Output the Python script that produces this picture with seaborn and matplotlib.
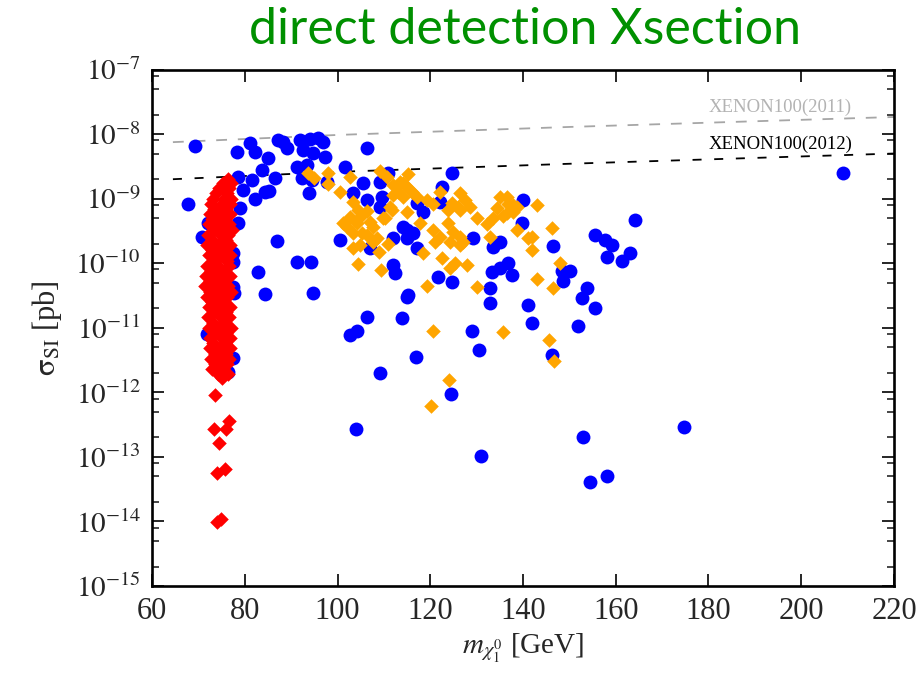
import numpy as np
import pandas as pd
import matplotlib
matplotlib.use("Agg")
import matplotlib.pyplot as plt
import seaborn as sns
from matplotlib.ticker import LogLocator, FixedLocator, NullFormatter, FuncFormatter

# ---- data (mass in GeV, log10 of sigma_SI in pb) ----
blue_mass = [69.3, 67.8, 78.3, 81.1, 82.2, 85.0, 83.7, 78.5, 81.6, 86.5, 79.6, 84.4, 85.3, 82.2,
             87.2, 89.1, 88.2, 91.9, 94.1, 95.8, 96.9, 92.6, 94.7, 97.3, 91.3, 93.4, 92.3, 94.5,
             93.9, 106.4, 101.6, 97.7, 105.5, 109.2, 110.9, 124.7, 122.5, 103.3, 106.4, 109.6,
             122.1, 140.0, 117.1, 118.4, 139.8, 109.2, 70.8, 72.1, 78.5, 87.0, 100.5, 112.0,
             115.0, 115.0, 117.1, 129.2, 133.5, 135.0, 107.0, 91.3, 94.3, 82.9, 112.0, 112.4,
             121.7, 124.7, 133.3, 135.0, 136.8, 137.6, 132.9, 132.9, 141.1, 141.9, 84.4, 94.7,
             115.0, 106.4, 113.9, 129.0, 102.7, 104.2, 209.0, 164.1, 155.5, 157.7, 159.2, 158.1,
             161.3, 163.1, 146.5, 148.4, 150.1, 148.6, 153.8, 152.7, 155.5, 151.9, 146.3, 152.9,
             174.7, 154.4, 158.1, 130.5, 116.9, 109.2, 124.5, 104.0, 130.9, 71.9, 76.4, 77.5,
             77.5, 77.5, 77.7, 77.5, 79.0, 114.1, 116.3, 115.2]
blue_log_sigma = [-8.185, -9.083, -8.278, -8.138, -8.278, -8.371, -8.557, -8.665, -8.712, -8.681,
                  -8.866, -8.897, -8.880, -9.006, -8.092, -8.216, -8.123, -8.092, -8.076, -8.061,
                  -8.123, -8.247, -8.293, -8.355, -8.510, -8.479, -8.681, -8.712, -8.913, -8.216,
                  -8.510, -8.742, -8.758, -8.742, -8.603, -8.603, -8.820, -8.913, -9.021, -8.975,
                  -9.052, -9.021, -9.068, -9.207, -9.378, -9.130, -9.594, -9.378, -9.378, -9.656,
                  -9.641, -9.610, -9.486, -9.610, -9.765, -9.610, -9.749, -9.672, -9.765, -9.982,
                  -9.982, -10.137, -10.028, -10.152, -10.214, -10.291, -10.137, -10.075, -9.997,
                  -10.183, -10.384, -10.617, -10.648, -10.926, -10.477, -10.462, -10.524, -10.834,
                  -10.849, -11.050, -11.112, -11.050, -8.603, -9.331, -9.563, -9.641, -9.718,
                  -9.904, -9.966, -9.842, -9.734, -10.121, -10.121, -10.276, -10.384, -10.539,
                  -10.694, -10.973, -11.422, -12.692, -12.537, -13.389, -13.296, -11.345, -11.453,
                  -11.701, -12.026, -12.568, -12.986, -11.097, -11.685, -9.842, -9.982, -10.369,
                  -10.462, -11.469, -9.145, -9.439, -9.532, -10.493]

orange_mass = [93.6, 94.9, 98.0, 98.0, 102.7, 100.5, 109.2, 110.7, 112.0, 113.0, 112.0, 115.2,
               114.6, 116.1, 117.1, 119.3, 120.6, 122.1, 124.7, 126.4, 127.5, 128.6, 126.4, 130.1,
               132.2, 135.0, 136.5, 137.8, 134.4, 135.7, 133.5, 143.0, 103.3, 104.4, 102.7, 106.4,
               101.2, 104.2, 107.0, 103.3, 106.4, 109.8, 111.3, 115.0, 117.8, 120.6, 123.8, 124.9,
               126.4, 126.4, 124.3, 122.1, 121.0, 132.9, 138.7, 141.1, 141.9, 103.3, 104.9, 107.7,
               108.9, 110.9, 118.4, 122.5, 124.3, 125.3, 127.9, 104.4, 109.4, 119.3, 130.1, 143.0,
               120.6, 135.7, 136.8, 146.3, 148.0, 146.5, 145.6, 146.7, 124.0, 120.2, 114.1, 115.6,
               126.0, 136.5, 137.8, 138.7, 104.9, 105.3, 108.5, 113.5, 114.1, 111.8, 110.2, 102.0,
               107.7, 123.8, 127.1, 141.9]
orange_log_sigma = [-8.603, -8.681, -8.603, -8.773, -8.665, -8.897, -8.572, -8.665, -8.789, -8.897,
                    -8.944, -8.619, -8.789, -8.897, -8.975, -9.021, -9.083, -8.897, -9.068, -8.913,
                    -9.021, -9.130, -9.176, -9.300, -9.393, -8.975, -8.975, -9.099, -9.145, -9.269,
                    -9.300, -9.099, -9.052, -9.176, -9.285, -9.192, -9.378, -9.378, -9.362, -9.532,
                    -9.563, -9.300, -9.130, -9.207, -9.378, -9.486, -9.378, -9.517, -9.594, -9.718,
                    -9.672, -9.594, -9.672, -9.594, -9.486, -9.610, -9.796, -9.765, -9.718, -9.672,
                    -9.827, -9.703, -9.842, -9.920, -10.075, -9.997, -10.028, -10.013, -10.106,
                    -10.353, -10.369, -10.245, -11.050, -11.066, -9.083, -9.455, -9.997, -10.384,
                    -11.190, -11.515, -11.809, -12.212, -8.758, -8.866, -9.130, -9.223, -9.207,
                    -9.130, -9.285, -9.532, -9.610, -8.742, -8.975, -9.176, -9.300, -9.439, -9.439,
                    -9.176, -9.672, -9.594]

red_mass = [76.3, 75.2, 77.0, 74.5, 76.6, 73.8, 76.2, 73.2, 75.5, 77.1, 72.8, 75.0, 76.8,
            73.4, 76.0, 72.5, 74.6, 76.9, 73.0, 75.8, 72.3, 74.4, 76.5, 73.3, 75.6, 77.2,
            72.0, 74.8, 76.4, 73.0, 75.9, 71.8, 74.2, 76.8, 72.9, 75.4, 72.2, 74.6, 76.9,
            73.5, 76.1, 71.9, 74.3, 76.6, 72.8, 75.5, 71.6, 74.0, 76.8, 72.6, 75.3, 71.5,
            73.8, 76.4, 72.4, 75.0, 77.0, 71.8, 74.2, 76.2, 73.0, 75.6, 72.2, 74.5, 76.8,
            73.4, 75.9, 72.0, 74.8, 76.6, 73.1, 75.4, 72.3, 74.6, 77.0, 73.6, 76.0, 72.5,
            75.0, 76.9, 73.2, 75.7, 72.4, 74.6, 76.8, 73.5, 75.9, 72.8, 75.0, 76.7, 73.6,
            76.2, 73.0, 75.3, 74.2, 76.4, 75.0,
            73.6, 73.4, 76.0, 76.6, 74.4, 74.0, 75.7, 74.0, 74.9]
red_log_sigma = [-8.70, -8.76, -8.76, -8.84, -8.84, -8.92, -8.92, -9.00, -9.00, -9.00, -9.08,
                 -9.08, -9.08, -9.16, -9.16, -9.24, -9.24, -9.24, -9.32, -9.32, -9.40, -9.40,
                 -9.40, -9.48, -9.48, -9.48, -9.56, -9.56, -9.56, -9.64, -9.64, -9.72, -9.72,
                 -9.72, -9.80, -9.80, -9.88, -9.88, -9.88, -9.96, -9.96, -10.04, -10.04, -10.04,
                 -10.12, -10.12, -10.20, -10.20, -10.20, -10.28, -10.28, -10.36, -10.36, -10.36,
                 -10.44, -10.44, -10.44, -10.52, -10.52, -10.52, -10.60, -10.60, -10.68, -10.68,
                 -10.68, -10.76, -10.76, -10.84, -10.84, -10.84, -10.92, -10.92, -11.00, -11.00,
                 -11.00, -11.08, -11.08, -11.16, -11.16, -11.16, -11.24, -11.24, -11.32, -11.32,
                 -11.32, -11.40, -11.40, -11.48, -11.48, -11.48, -11.56, -11.56, -11.64, -11.64,
                 -11.72, -11.72, -11.78,
                 -12.042, -12.568, -12.568, -12.444, -12.785, -13.250, -13.188, -14.009, -13.962]

xenon2011_mass = [64.5, 100.0, 150.0, 220.0]
xenon2011_sigma = [7.5e-9, 9.7e-9, 1.29e-8, 1.84e-8]
xenon2012_mass = [64.5, 100.0, 150.0, 220.0]
xenon2012_sigma = [2.0e-9, 2.6e-9, 3.47e-9, 5.0e-9]

x_ticks = [60, 80, 100, 120, 140, 160, 180, 200, 220]
y_exponents = [-15, -14, -13, -12, -11, -10, -9, -8, -7]

# ---- style ----
sns.set_style("ticks")
plt.rcParams["font.family"] = ["Liberation Serif", "DejaVu Serif"]
plt.rcParams["mathtext.fontset"] = "stix"

fig = plt.figure(figsize=(9.22, 6.77), dpi=100)
ax = fig.add_axes([0.1649, 0.1344, 0.8047, 0.7629])
ax.set_yscale("log")

blue_df = pd.DataFrame({"m": blue_mass, "s": 10.0 ** np.array(blue_log_sigma)})
orange_df = pd.DataFrame({"m": orange_mass, "s": 10.0 ** np.array(orange_log_sigma)})
red_df = pd.DataFrame({"m": red_mass, "s": 10.0 ** np.array(red_log_sigma)})
x11 = pd.DataFrame({"m": xenon2011_mass, "s": xenon2011_sigma})
x12 = pd.DataFrame({"m": xenon2012_mass, "s": xenon2012_sigma})

sns.lineplot(data=x11, x="m", y="s", ax=ax, color="#a6a6a6", linewidth=1.3,
             linestyle=(0, (6, 6)), zorder=1)
sns.lineplot(data=x12, x="m", y="s", ax=ax, color="black", linewidth=1.3,
             linestyle=(0, (5, 7)), zorder=1)

sns.scatterplot(data=blue_df, x="m", y="s", ax=ax, color="#0000ff", marker="o",
                s=100, linewidth=0, zorder=3)
sns.scatterplot(data=orange_df, x="m", y="s", ax=ax, color="#ffa500", marker="D",
                s=55, linewidth=0, zorder=4)
sns.scatterplot(data=red_df, x="m", y="s", ax=ax, color="#ff0000", marker="D",
                s=55, linewidth=0, zorder=5)

ax.text(180.1, 2.63e-8, "XENON100(2011)", color="#b3b3b3", fontsize=13.5,
        ha="left", va="center")
ax.text(180.1, 7.0e-9, "XENON100(2012)", color="black", fontsize=13.5,
        ha="left", va="center")

ax.set_xlim(60, 220)
ax.set_ylim(1e-15, 1e-7)
ax.xaxis.set_major_locator(FixedLocator(x_ticks))
ax.yaxis.set_major_locator(FixedLocator([10.0 ** e for e in y_exponents]))
ax.yaxis.set_minor_locator(LogLocator(base=10, subs=[2, 5, 8], numticks=30))
ax.yaxis.set_minor_formatter(NullFormatter())
ax.yaxis.set_major_formatter(FuncFormatter(lambda v, p: r"$10^{%d}$" % int(round(np.log10(v)))))

ax.tick_params(axis="both", which="major", direction="in", length=8.5, width=1.4,
               top=True, right=True)
ax.tick_params(axis="both", which="minor", direction="in", length=5, width=1.2,
               top=True, right=True)
ax.tick_params(axis="x", which="minor", length=0)
ax.tick_params(axis="x", labelsize=22, pad=8)
ax.tick_params(axis="y", labelsize=21, pad=8)
for sp in ax.spines.values():
    sp.set_linewidth(1.9)
    sp.set_color("black")

ax.set_xlabel(r"$m_{\chi^0_1}$ [GeV]", fontsize=21, labelpad=4)
ax.set_ylabel(r"$\mathrm{\sigma_{SI}}$ [pb]", fontsize=22, labelpad=8)

fig.text(0.569, 0.955, "direct detection Xsection", color="#009000", fontsize=36,
         family="Lato", ha="center", va="center")

fig.savefig("out.png", dpi=100)
